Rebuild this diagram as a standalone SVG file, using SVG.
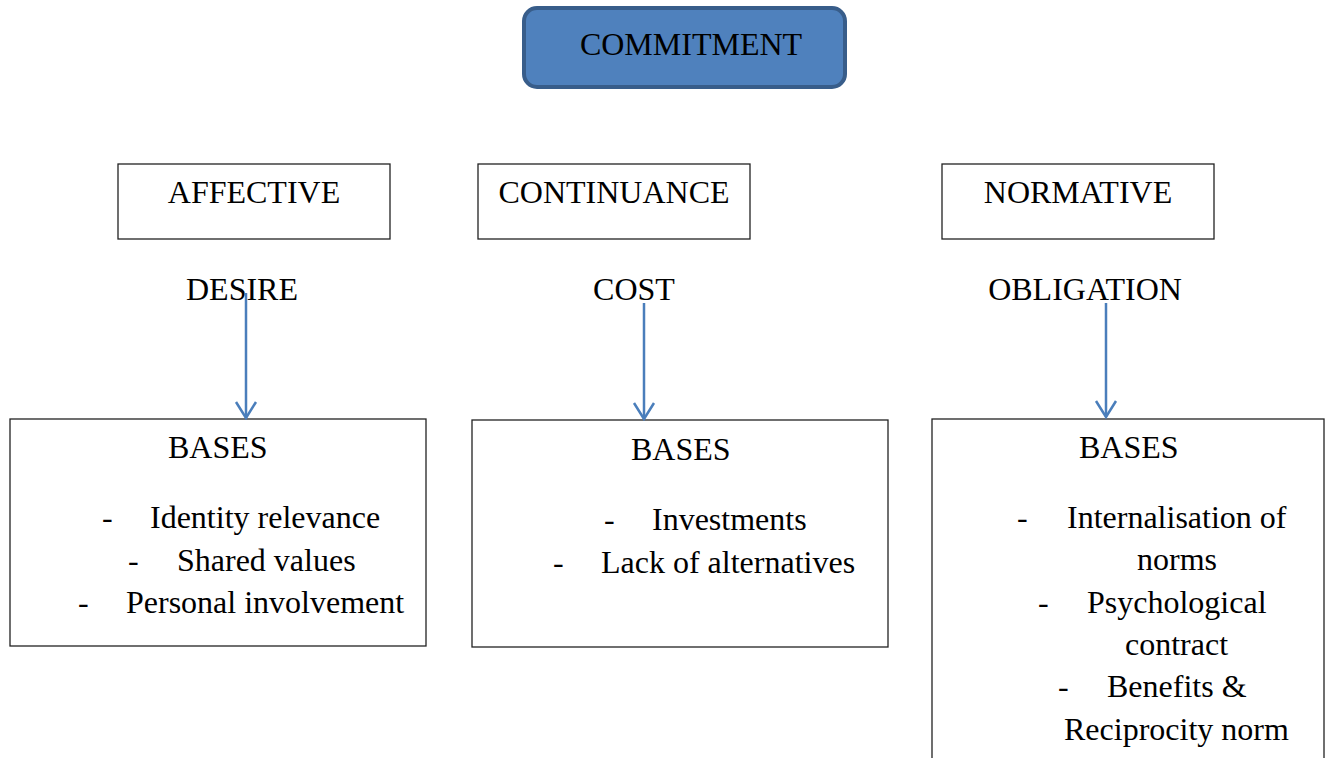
<svg xmlns="http://www.w3.org/2000/svg" width="1328" height="758" viewBox="0 0 1328 758">
<defs>
<style>
text{font-family:"Liberation Serif","Times New Roman",serif;font-size:32px;fill:#000}
.c{text-anchor:middle}
.box{fill:#fff;stroke:#222;stroke-width:1.3}
.arr{fill:none;stroke:#4a7ebb;stroke-width:2.5}
</style>
<marker id="ah" viewBox="0 0 20 24" refX="18" refY="12" markerWidth="20" markerHeight="24" markerUnits="userSpaceOnUse" orient="auto">
<path d="M2,2 L18,12 L2,22" fill="none" stroke="#4a7ebb" stroke-width="2.5"/>
</marker>
</defs>
<rect width="1328" height="758" fill="#fff"/>
<g id="commitment">
<rect x="524" y="8" width="321" height="79" rx="13" fill="#4f81bd" stroke="#385d8a" stroke-width="4"/>
<text x="691" y="55" class="c">COMMITMENT</text>
</g>
<g id="affective">
<rect class="box" x="118" y="164" width="272" height="75"/>
<text x="254" y="203" class="c">AFFECTIVE</text>
</g>
<g id="continuance">
<rect class="box" x="478" y="164" width="272" height="75"/>
<text x="614" y="203" class="c">CONTINUANCE</text>
</g>
<g id="normative">
<rect class="box" x="942" y="164" width="272" height="75"/>
<text x="1078" y="203" class="c">NORMATIVE</text>
</g>
<g id="desire"><text x="242" y="300" class="c">DESIRE</text></g>
<g id="cost"><text x="634" y="300" class="c">COST</text></g>
<g id="obligation"><text x="1085" y="300" class="c">OBLIGATION</text></g>
<g id="bases-affective">
<rect class="box" x="10" y="419" width="416" height="227"/>
<text x="168" y="458">BASES</text>
<text x="102" y="528">-</text><text x="150" y="528">Identity relevance</text>
<text x="128" y="571">-</text><text x="177" y="571">Shared values</text>
<text x="78" y="613">-</text><text x="126" y="613">Personal involvement</text>
</g>
<g id="bases-continuance">
<rect class="box" x="472" y="420" width="416" height="227"/>
<text x="631" y="460">BASES</text>
<text x="604" y="530">-</text><text x="652" y="530">Investments</text>
<text x="553" y="573">-</text><text x="601" y="573">Lack of alternatives</text>
</g>
<g id="bases-normative">
<rect class="box" x="932" y="419" width="392" height="360"/>
<text x="1079" y="458">BASES</text>
<text x="1017" y="528">-</text><text x="1067" y="528">Internalisation of</text>
<text x="1137" y="570">norms</text>
<text x="1038" y="613">-</text><text x="1087" y="613">Psychological</text>
<text x="1125" y="655">contract</text>
<text x="1058" y="697">-</text><text x="1107" y="697">Benefits &amp;</text>
<text x="1064" y="740">Reciprocity norm</text>
</g>
<g id="connectors">
<line class="arr" x1="246" y1="293" x2="246" y2="418" marker-end="url(#ah)"/>
<line class="arr" x1="644" y1="303" x2="644" y2="419" marker-end="url(#ah)"/>
<line class="arr" x1="1106" y1="303" x2="1106" y2="417" marker-end="url(#ah)"/>
</g>
</svg>
